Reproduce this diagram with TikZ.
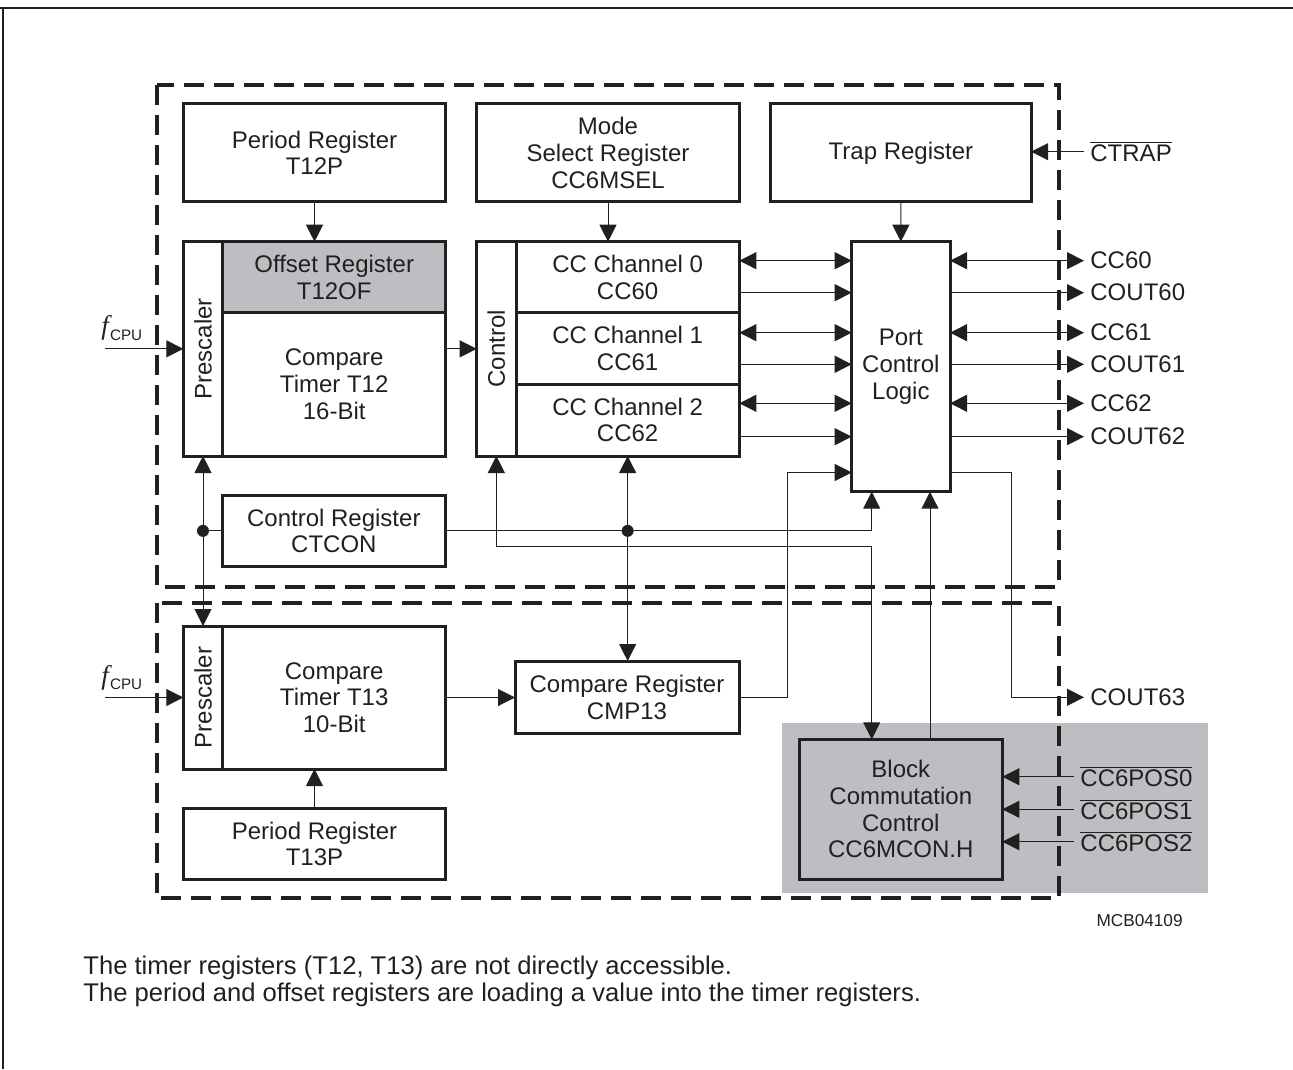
\documentclass[tikz,border=0pt]{standalone}
\usepackage{fontspec}
\setmainfont{Liberation Sans}
\newfontfamily\serifit{Liberation Serif}
\usetikzlibrary{positioning,arrows.meta}
\definecolor{ink}{HTML}{231F20}
\definecolor{regfill}{HTML}{BCBEC1}
\tikzstyle{regbox}=[draw=ink, line width=1.5pt, rectangle, inner sep=0pt, outer sep=0pt, align=center, text=ink, font=\fontsize{12}{13.35}\selectfont]
\tikzstyle{greybox}=[regbox, fill=regfill]
\tikzstyle{pinlabel}=[anchor=west, inner sep=3pt, text=ink, font=\fontsize{12}{13.35}\selectfont]
\tikzstyle{wire}=[draw=ink, line width=0.5pt, >={Triangle[length=8.5pt,width=8.5pt]}]
\tikzstyle{dashbox}=[draw=ink, line width=2pt, dash pattern=on 10pt off 5pt]
\tikzstyle{junction}=[fill=ink, circle, inner sep=0pt, minimum size=6pt]
\tikzstyle{fclock}=[anchor=base west, inner sep=0pt, text=ink]
\tikzstyle{notetext}=[anchor=base west, inner sep=0pt, text=ink, font=\fontsize{12.8}{14}\selectfont]

\begin{document}
\begin{tikzpicture}[x=0.5pt, y=-0.5pt]
\useasboundingbox (0,0) rectangle (1293,1069);
% page frame
\draw[ink, line width=1pt] (0,8) -- (1293,8);
\draw[ink, line width=1pt] (2.5,8) -- (2.5,1069);
% grey area and module frames
\fill[regfill] (782,723.3) rectangle (1207.7,892.5);
\draw[dashbox] (157,85) rectangle (1059,586.7);
\draw[dashbox] (157,602.7) rectangle (1059,898.3);

% T12 part
\node[regbox, minimum width=131.2pt, minimum height=48.85pt] (t12p) at (314.5,152.85) {Period Register\\T12P};
\node[regbox, minimum width=131.3pt, minimum height=48.85pt] (msel) at (608,152.85) {Mode\\Select Register\\CC6MSEL};
\node[regbox, minimum width=130.2pt, minimum height=48.85pt] (trap) at (900.9,152.85) {Trap Register};
\node[regbox, minimum width=19.7pt, minimum height=107.15pt] (pre12) at (203,348.85) {\rotatebox{90}{Prescaler}};
\node[greybox, minimum width=111.5pt, minimum height=35.5pt, anchor=north west] (ofs12) at (pre12.north east) {Offset Register\\T12OF};
\node[regbox, minimum width=111.5pt, minimum height=71.65pt, below=0pt of ofs12] (t12) {Compare\\Timer T12\\16-Bit};
\node[regbox, minimum width=19.65pt, minimum height=107.15pt] (ctl) at (496.35,348.85) {\rotatebox{90}{Control}};
\node[regbox, minimum width=111.65pt, minimum height=35.5pt, anchor=north west] (cc0) at (ctl.north east) {CC Channel 0\\CC60};
\node[regbox, minimum width=111.65pt, minimum height=35.65pt, below=0pt of cc0] (cc1) {CC Channel 1\\CC61};
\node[regbox, minimum width=111.65pt, minimum height=36pt, below=0pt of cc1] (cc2) {CC Channel 2\\CC62};
\node[regbox, minimum width=49.15pt, minimum height=125pt] (pcl) at (900.85,366.7) {Port\\Control\\Logic};
\node[regbox, minimum width=111.15pt, minimum height=35.85pt] (ctcon) at (333.85,530.85) {Control Register\\CTCON};

% T13 part
\node[regbox, minimum width=19.7pt, minimum height=71.5pt] (pre13) at (203,697.5) {\rotatebox{90}{Prescaler}};
\node[regbox, minimum width=111.5pt, minimum height=71.5pt, right=0pt of pre13] (t13) {Compare\\Timer T13\\10-Bit};
\node[regbox, minimum width=131.2pt, minimum height=35.5pt] (t13p) at (314.5,843.8) {Period Register\\T13P};
\node[regbox, minimum width=112pt, minimum height=36.15pt] (cmp13) at (627,697.15) {Compare Register\\CMP13};
\node[greybox, minimum width=101.5pt, minimum height=70pt] (bcc) at (900.8,809.3) {Block\\Commutation\\Control\\CC6MCON.H};

% pins
\node[pinlabel] (ctrapl) at (1084,151.7) {$\overline{\mbox{CTRAP}}$};
\node[pinlabel] (cc60l) at (1084,260.7) {CC60};
\node[pinlabel] (cout60l) at (1084,292.7) {COUT60};
\node[pinlabel] (cc61l) at (1084,332.7) {CC61};
\node[pinlabel] (cout61l) at (1084,364.3) {COUT61};
\node[pinlabel] (cc62l) at (1084,403.3) {CC62};
\node[pinlabel] (cout62l) at (1084,436.7) {COUT62};
\node[pinlabel] (cout63l) at (1084,697.3) {COUT63};
\node[pinlabel] (pos0l) at (1074,776.7) {$\overline{\mbox{CC6POS0}}$};
\node[pinlabel] (pos1l) at (1074,809.3) {$\overline{\mbox{CC6POS1}}$};
\node[pinlabel] (pos2l) at (1074,841.7) {$\overline{\mbox{CC6POS2}}$};
\node[fclock] (f12) at (101,335) {\fontsize{13.5}{15}\selectfont\serifit\itshape f\kern0.6pt\raisebox{-2.5pt}{\fontsize{7.6}{8}\selectfont\normalfont CPU}};
\node[fclock] (f13) at (101,684) {\fontsize{13.5}{15}\selectfont\serifit\itshape f\kern0.6pt\raisebox{-2.5pt}{\fontsize{7.6}{8}\selectfont\normalfont CPU}};
\coordinate (fin12) at (105,348.85);
\coordinate (fin13) at (105,697.5);
\coordinate (cm) at (787.3,472.5);
\coordinate (co) at (1011.7,472.5);
\coordinate (rc) at (871.7,546.5);
\coordinate (pq) at ([xshift=-10pt]pcl.south east);

% connections
\draw[wire,->] (t12p.south) -- (t12p.south |- ofs12.north);
\draw[wire,->] (msel.south) -- (msel.south |- cc0.north);
\draw[wire,->] (trap.south) -- (pcl.north);
\draw[wire,->] (ctrapl.west) -- (ctrapl.west -| trap.east);
\draw[wire,->] (fin12) -- (fin12 -| pre12.west);
\draw[wire,->] (ctl.west -| t12.east) -- (ctl.west);
\draw[wire,<->] (cc60l.west -| cc0.east) -- (cc60l.west -| pcl.west);
\draw[wire,->] (cout60l.west -| cc0.east) -- (cout60l.west -| pcl.west);
\draw[wire,<->] (cc61l.west -| cc1.east) -- (cc61l.west -| pcl.west);
\draw[wire,->] (cout61l.west -| cc1.east) -- (cout61l.west -| pcl.west);
\draw[wire,<->] (cc62l.west -| cc2.east) -- (cc62l.west -| pcl.west);
\draw[wire,->] (cout62l.west -| cc2.east) -- (cout62l.west -| pcl.west);
\draw[wire,<->] (cc60l.west -| pcl.east) -- (cc60l.west);
\draw[wire,->] (cout60l.west -| pcl.east) -- (cout60l.west);
\draw[wire,<->] (cc61l.west -| pcl.east) -- (cc61l.west);
\draw[wire,->] (cout61l.west -| pcl.east) -- (cout61l.west);
\draw[wire,<->] (cc62l.west -| pcl.east) -- (cc62l.west);
\draw[wire,->] (cout62l.west -| pcl.east) -- (cout62l.west);
\draw[wire,->] (cmp13.east) -| (cm) -- (cm -| pcl.west);
\draw[wire,->] (co -| pcl.east) -- (co) |- (cout63l.west);
\draw[wire,->] (ctcon.east) -| (rc |- pcl.south);
\draw[wire,<->] (ctl.south) |- (rc) -- (rc |- bcc.north);
\draw[wire,->] (pq |- bcc.north) -- (pq);
\draw[wire,<->] (cc2.south) -- (cc2.south |- cmp13.north);
\draw[wire,<->] (pre12.south) -- (pre13.north);
\draw[wire] (ctcon.west) -- (ctcon.west -| pre12.south);
\draw[wire,->] (fin13) -- (fin13 -| pre13.west);
\draw[wire,->] (t13.east) -- (t13.east -| cmp13.west);
\draw[wire,->] (t13p.north) -- (t13p.north |- t13.south);
\draw[wire,->] (pos0l.west) -- (pos0l.west -| bcc.east);
\draw[wire,->] (pos1l.west) -- (pos1l.west -| bcc.east);
\draw[wire,->] (pos2l.west) -- (pos2l.west -| bcc.east);
\node[junction] (j1) at (ctcon.west -| pre12.south) {};
\node[junction] (j2) at (ctcon.east -| cc2.south) {};

% notes
\node[anchor=east, inner sep=0pt, text=ink, font=\fontsize{8.6}{10}\selectfont] (figid) at (1183,920.7) {MCB04109};
\node[notetext] (note1) at (83,974) {The timer registers (T12, T13) are not directly accessible.};
\node[notetext] (note2) at (83,1001) {The period and offset registers are loading a value into the timer registers.};
\end{tikzpicture}
\end{document}
